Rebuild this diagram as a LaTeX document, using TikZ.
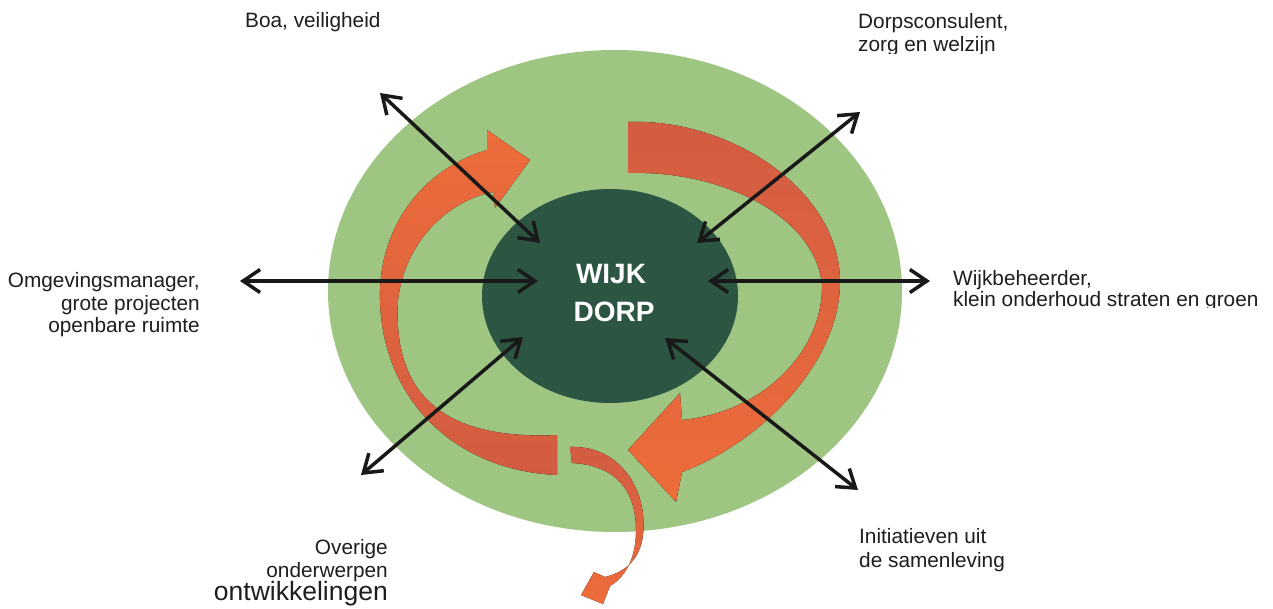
\documentclass[tikz,border=0pt]{standalone}
\usepackage{fontspec}
\setmainfont{Liberation Sans}
\usetikzlibrary{arrows.meta,shapes.geometric}
\definecolor{ringgreen}{RGB}{158,197,130}
\definecolor{coregreen}{RGB}{44,86,66}
\definecolor{flowor}{RGB}{237,108,58}
\definecolor{flowred}{RGB}{210,92,66}
\definecolor{txtgray}{RGB}{30,30,30}
\begin{document}
\begin{tikzpicture}[x=1pt,y=-1pt,
  lbl/.style={inner sep=0pt, text=txtgray, font=\fontsize{20.8}{24}\selectfont},
  biglbl/.style={inner sep=0pt, text=txtgray, font=\fontsize{26.5}{30}\selectfont},
  core/.style={inner sep=0pt, text=white, font=\bfseries\fontsize{28}{32}\selectfont},
  dbl/.style={line width=3.5pt, draw=black!90,
    {Straight Barb[length=17pt,width=23pt]}-{Straight Barb[length=17pt,width=23pt]}},
  flowL/.style={top color=flowor, bottom color=flowred, draw=none},
  flowR/.style={top color=flowred, bottom color=flowor, draw=none},
  flowS/.style={top color=flowred, bottom color=flowor, draw=none}]
\useasboundingbox (0,0) rectangle (1273,609);
\fill[white] (0,0) rectangle (1273,609);

% ellipses
\node[ellipse, fill=ringgreen, minimum width=574pt, minimum height=482pt, inner sep=0pt] (ring) at (615,291) {};
\node[ellipse, fill=coregreen, minimum width=256pt, minimum height=214pt, inner sep=0pt] (hub) at (610,296) {};

% orange flow arrows
\fill[flowL] (557,475) .. controls (450,470) and (382,395) .. (380,300)
  .. controls (378,230) and (420,170) .. (487,150) -- (487,130) -- (530,160) -- (495,208) -- (493,192)
  .. controls (450,200) and (405,240) .. (398,300)
  .. controls (392,400) and (450,440) .. (557,435) -- cycle;
\fill[flowR] (628,122) .. controls (730,118) and (840,190) .. (840,282)
  .. controls (840,362) and (762,442) .. (682,472) -- (676,502) -- (628,450) -- (680,393) -- (682,420)
  .. controls (765,412) and (823,350) .. (822,285)
  .. controls (815,215) and (720,170) .. (628,173) -- cycle;
\fill[flowS] (570,447) .. controls (620,445) and (648,490) .. (643,535)
  .. controls (640,560) and (625,572) .. (605,577) -- (594,572) -- (581,595) -- (603,604) -- (610,586)
  .. controls (628,575) and (636,555) .. (636,530)
  .. controls (636,490) and (615,465) .. (572,463) -- cycle;

% centre text
\node[core, anchor=base] (wijk) at (611,284) {WIJK};
\node[core, anchor=base] (dorp) at (614,321) {DORP};

% connector end points
\coordinate (a1o) at (380,93);  \coordinate (a1i) at (540,243);
\coordinate (a2o) at (860,112); \coordinate (a2i) at (697,243);
\coordinate (a3o) at (240,281); \coordinate (a3i) at (538,281);
\coordinate (a4o) at (930,281); \coordinate (a4i) at (708,281);
\coordinate (a5o) at (361,475); \coordinate (a5i) at (523,337);
\coordinate (a6o) at (858,490); \coordinate (a6i) at (665,338);
\draw[dbl] (a1o) -- (a1i);
\draw[dbl] (a2o) -- (a2i);
\draw[dbl] (a3o) -- (a3i);
\draw[dbl] (a4o) -- (a4i);
\draw[dbl] (a5o) -- (a5i);
\draw[dbl] (a6o) -- (a6i);

% labels
\node[lbl, anchor=base west] (boa) at (245,28) {Boa, veiligheid};
\node[lbl, anchor=base west] (dc1) at (858,29) {Dorpsconsulent,};
\begin{scope}
  \clip (850,34) rectangle (1100,53.5);
  \node[lbl, anchor=base west] (dc2) at (858,52) {zorg en welzijn};
\end{scope}
\node[lbl, anchor=base east] (om1) at (200,288) {Omgevingsmanager,};
\node[lbl, anchor=base east] (om2) at (200,310) {grote projecten};
\node[lbl, anchor=base east] (om3) at (200,332) {openbare ruimte};
\node[lbl, anchor=base west] (wb1) at (953,286) {Wijkbeheerder,};
\begin{scope}
  \clip (940,289) rectangle (1273,307.5);
  \node[lbl, anchor=base west] (wb2) at (953,306) {klein onderhoud straten en groen};
\end{scope}
\node[lbl, anchor=base west] (in1) at (859,543) {Initiatieven uit};
\node[lbl, anchor=base west] (in2) at (859,567) {de samenleving};
\node[lbl, anchor=base east] (ov1) at (388,554) {Overige};
\node[lbl, anchor=base east] (ov2) at (388,577) {onderwerpen};
\node[biglbl, anchor=base east] (ov3) at (388,600) {ontwikkelingen};
\end{tikzpicture}
\end{document}
